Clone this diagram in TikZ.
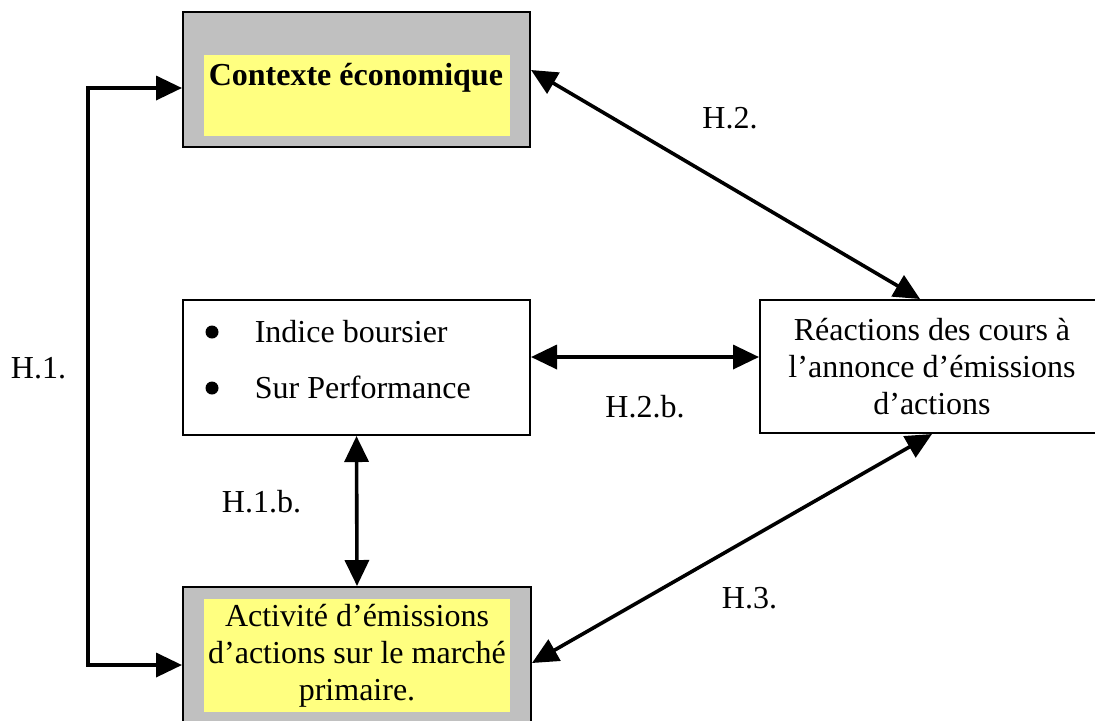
\documentclass[tikz,border=0pt]{standalone}
\usepackage{fontspec}
\setmainfont{Liberation Serif}
\usetikzlibrary{arrows.meta, positioning}

\definecolor{boxgray}{HTML}{C0C0C0}
\definecolor{paleyellow}{HTML}{FFFF80}
\newcommand{\boxfont}{\fontsize{16}{18.5}\selectfont}

\begin{document}
\begin{tikzpicture}[
  x = 0.5pt, y = -0.5pt,                   % one unit = one pixel of the sketch
  > = {Triangle[length=13pt, width=12pt]}, % arrow head style
  line width = 1.8pt,                      % thick arrows
  font = \boxfont
  ]

  \tikzstyle{G1}=[      % Grey frame
  draw, line width = 1pt,
  fill = boxgray,
  inner sep = 0pt
  ]

  \tikzstyle{Y1}=[      % Yellow inside of a frame
  fill = paleyellow,
  inner sep = 0pt
  ]

  \tikzstyle{W1}=[      % White box
  draw, line width = 1pt,
  fill = white,
  inner sep = 0pt
  ]

  \tikzstyle{B1}=[      % Bullet
  circle, fill = black,
  inner sep = 0pt, minimum size = 6.5pt
  ]

  \tikzstyle{L1}=[      % Labels
  inner sep = 0pt, anchor = base
  ]

  \useasboundingbox (0,0) rectangle (1095,720);

  % Boxes
  \node[G1, minimum width = 173.5pt, minimum height = 67.5pt] (ctx) at (356.5,79.5) {};
  \node[Y1, minimum width = 153pt, minimum height = 40.5pt] (ctxin) at (357,95.5) {};
  \node[L1, anchor = base west, font = \boxfont\bfseries] (ctxtxt) at (207,85) {Contexte économique};

  \node[W1, minimum width = 173.5pt, minimum height = 67.5pt] (ind) at (356.5,367.5) {};
  \node[L1, anchor = base west] (ib) at (253,342) {Indice boursier};
  \node[L1, anchor = base west] (sp) at (253,398) {Sur Performance};
  \node[B1] (bi) at (212,332) {};
  \node[B1] (bs) at (212,388) {};

  \node[W1, minimum width = 172pt, minimum height = 66.5pt, align = center] (react) at (932,366.5)
    {Réactions des cours à\\l’annonce d’émissions\\d’actions};

  \node[G1, minimum width = 174pt, minimum height = 71.5pt] (act) at (357,658.5) {};
  \node[Y1, minimum width = 153pt, minimum height = 56.5pt, align = center] (actin) at (357,655.5)
    {Activité d’émissions\\d’actions sur le marché\\primaire.};

  % Arrows
  \coordinate (h1) at (88,367);
  \draw[<->] ([yshift=-4.25pt]ctx.west) -| (h1) |- ([yshift=-3.25pt]act.west);
  \path[<->] ([yshift=4.75pt]ctx.east) edge node {} ([xshift=-6pt]react.north);
  \path[<->] ([yshift=5.25pt]ind.east) edge node {} ([yshift=4.75pt]react.west);
  \path[<->] (ind.south) edge node {} (act.north);
  \path[<->] ([yshift=-2.25pt]act.east) edge node {} (react.south);

  % Hypotheses
  \node[L1] (lh1) at (38.5,378) {H.1.};
  \node[L1] (lh1b) at (261.5,512) {H.1.b.};
  \node[L1] (lh2) at (730,128) {H.2.};
  \node[L1] (lh2b) at (645,417) {H.2.b.};
  \node[L1] (lh3) at (749.5,608) {H.3.};
\end{tikzpicture}
\end{document}
